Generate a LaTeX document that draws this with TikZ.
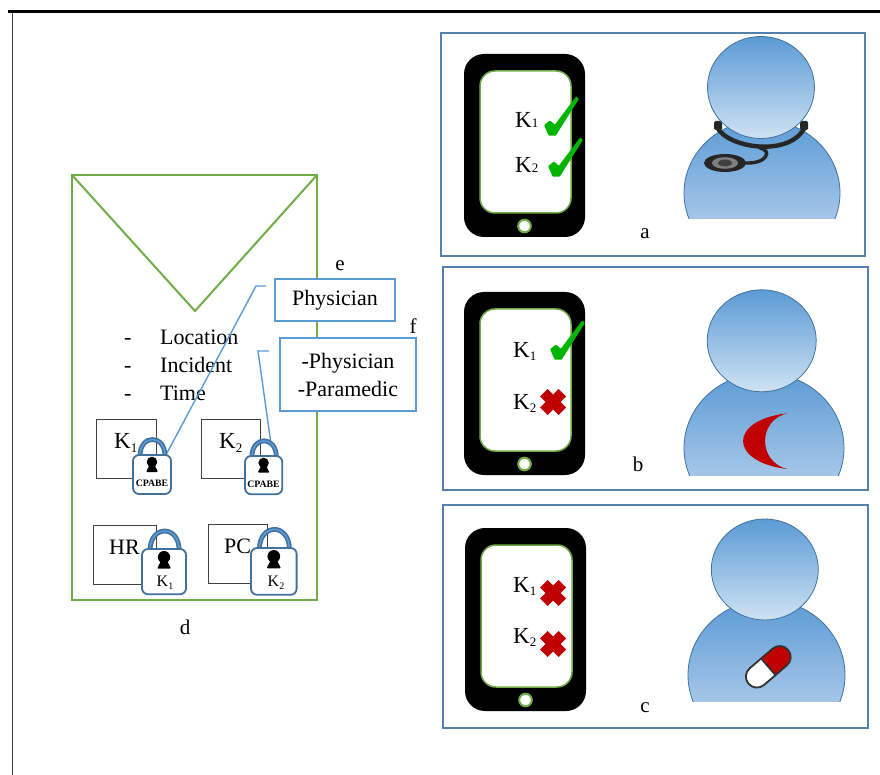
\documentclass[tikz,border=0pt]{standalone}
\usepackage{fontspec}
\setmainfont{Liberation Serif}
\definecolor{envgreen}{HTML}{70AD47}
\definecolor{calloutblue}{HTML}{5B9BD5}
\definecolor{framesteel}{HTML}{5580AE}
\definecolor{lockblue}{HTML}{41719C}
\definecolor{skyTop}{HTML}{5B9BD5}
\definecolor{headLow}{HTML}{CFE2F3}
\definecolor{bodyLow}{HTML}{C8DAF1}
\definecolor{tickgreen}{HTML}{00B400}
\definecolor{crossred}{HTML}{C00000}
\newcommand{\ksub}[2]{{\fontsize{23}{26}\selectfont K}{\fontsize{13}{13}\selectfont\raisebox{#2pt}{#1}}}
\newcommand{\tickmark}[2]{\fill[tickgreen,line join=round,draw=tickgreen,line width=2.4pt] (#1+1.5,#2+28.5) -- (#1+6,#2+25) -- (#1+11,#2+29.5) -- (#1+32.5,#2+1) -- (#1+33.5,#2+2) -- (#1+11,#2+37.5) -- (#1+5.5,#2+37.5) -- cycle;}
\newcommand{\crossmark}[2]{\fill[crossred] (#1+7.5,#2) -- (#1+13,#2+5.5) -- (#1+18.5,#2) -- (#1+26,#2+7.5) -- (#1+20.5,#2+13) -- (#1+26,#2+18.5) -- (#1+18.5,#2+26) -- (#1+13,#2+20.5) -- (#1+7.5,#2+26) -- (#1,#2+18.5) -- (#1+5.5,#2+13) -- (#1,#2+7.5) -- cycle;}
\newcommand{\phonebody}[2]{%
  \fill[black,rounded corners=20pt] (#1,#2) rectangle (#1+121,#2+183);
  \draw[envgreen,fill=white,line width=1.5pt,rounded corners=15pt] (#1+16,#2+17) rectangle (#1+107,#2+159);
  \draw[envgreen,fill=white,line width=2pt] (#1+60.5,#2+172) circle[radius=6.3pt];
}
\newcommand{\personbody}[5]{% bodyx bodyy clipy rx ry
  \begin{scope}
    \clip (#1-90,#2-90) rectangle (#1+90,#3);
    \shade[top color=skyTop,bottom color=bodyLow,draw=lockblue,line width=.8pt] (#1,#2) ellipse[x radius=#4pt,y radius=#5pt];
  \end{scope}
}
\newcommand{\personhead}[4]{\shade[top color=skyTop,bottom color=headLow,draw=lockblue,line width=.8pt] (#1,#2) ellipse[x radius=#3pt,y radius=#4pt];}
\newcommand{\padlock}[3]{% x y scale
  \begin{scope}[shift={(#1,#2)},scale=#3]
    \draw[lockblue,line width=4.8pt] (7,1) .. controls (7,-21) and (32,-21) .. (32,1);
    \draw[calloutblue,line width=1.6pt] (7,1) .. controls (7,-21) and (32,-21) .. (32,1);
    \draw[lockblue,fill=white,line width=1.8pt,rounded corners=6pt] (0,0) rectangle (38,39);
    \fill[black] (19,7) circle[radius=5.3pt];
    \fill[black,rounded corners=1pt] (17,9) -- (13,17) -- (25,17) -- (21,9) -- cycle;
  \end{scope}
}
\tikzset{
  panelframe/.style={draw=framesteel,line width=1.8pt},
  plainsquare/.style={draw=black!75,line width=.9pt},
  calloutline/.style={draw=calloutblue,line width=1.4pt},
  calloutbox/.style={draw=calloutblue,fill=white,line width=2pt,align=center,inner sep=0pt,font=\fontsize{22}{28}\selectfont},
  txt/.style={anchor=base west,inner sep=0pt,font=\fontsize{22}{26}\selectfont},
  ctxt/.style={anchor=base,inner sep=0pt,font=\fontsize{21}{26}\selectfont},
  smallk/.style={anchor=base,inner sep=0pt,font=\fontsize{16}{18}\selectfont},
  cplabel/.style={anchor=base,inner sep=0pt,font=\fontsize{9.8}{11}\selectfont\bfseries},
  tube/.style={draw=black!85,line width=4.4pt,line cap=round}
}
\begin{document}
\begin{tikzpicture}[x=1pt,y=-1pt]
\useasboundingbox (0,0) rectangle (880,775);
\fill[white] (0,0) rectangle (880,775);
% page rules
\draw[black!75,line width=1pt] (12.5,12) -- (12.5,775);
\draw[black,line width=3.6pt] (8,11.5) -- (880,11.5);
% envelope
\draw[envgreen,line width=2pt] (72,175) rectangle (317,600);
\draw[envgreen,line width=2pt] (72,175) -- (195,311) -- (317,175);
% list
\node[txt] (d1) at (124,344) {-};
\node[txt] (l1) at (160,344) {Location};
\node[txt] (d2) at (124,372) {-};
\node[txt] (l2) at (160,372) {Incident};
\node[txt] (d3) at (124,400) {-};
\node[txt] (l3) at (160,400) {Time};
% squares
\draw[plainsquare] (96,419) rectangle (156,478);
\draw[plainsquare] (201,419) rectangle (260,478);
\draw[plainsquare] (93,525) rectangle (156,584);
\draw[plainsquare] (208,524) rectangle (267,583);
\node[txt] (sk1) at (114,448) {\ksub{1}{-4}};
\node[txt] (sk2) at (219,448) {\ksub{2}{-4}};
\node[txt] (shr) at (109,554) {HR};
\node[txt] (spc) at (224,553) {PC};
% callouts
\node[calloutbox,minimum width=120pt,minimum height=42pt] (phys) at (335,300) {Physician};
\node[calloutbox,minimum width=136pt,minimum height=73pt] (both) at (348,374.5) {-Physician\\-Paramedic};
\coordinate (physend) at (266,286);
\coordinate (bothend) at (269,351);
\coordinate (lockA) at (167,453);
\coordinate (lockB) at (271,444);
\draw[calloutline] (physend) -- (256,286) -- (lockA);
\draw[calloutline] (bothend) -- (258,351) -- (lockB);
% locks
\padlock{133}{455}{1}
\padlock{245}{456}{.98}
\padlock{142}{549}{1.16}
\padlock{251}{548}{1.2}
\node[cplabel] (cp1) at (152,486) {CPABE};
\node[cplabel] (cp2) at (263.5,487) {CPABE};
\node[smallk] (lk1) at (165,586) {K{\fontsize{10}{10}\selectfont\raisebox{-3pt}{1}}};
\node[smallk] (lk2) at (276,586) {K{\fontsize{10}{10}\selectfont\raisebox{-3pt}{2}}};
% labels
\node[ctxt] (ld) at (185,634) {d};
\node[ctxt] (le) at (340,271) {e};
\node[ctxt] (lf) at (413,334) {f};
% panel a
\draw[panelframe] (441,33) rectangle (865,256);
\phonebody{464}{54}
\node[txt] (a1) at (515,128) {\ksub{1}{0}};
\node[txt] (a2) at (515,173) {\ksub{2}{0}};
\tickmark{544}{97}
\tickmark{548}{138}
\personbody{762}{193}{218.7}{78}{73}
\draw[tube] (717,127) .. controls (727,148) and (790,158) .. (805,127);
\fill[black!85,rounded corners=1.5pt] (714,121) rectangle (722,130);
\fill[black!85,rounded corners=1.5pt] (800,121) rectangle (808,130);
\draw[tube,line width=3.4pt] (760,148) .. controls (772,150) and (768,164) .. (745,163);
\fill[black!85] (725,163) ellipse[x radius=21pt,y radius=9pt];
\fill[black!50] (725,163) ellipse[x radius=13pt,y radius=5.8pt];
\fill[black!75] (725,163) ellipse[x radius=7pt,y radius=3.5pt];
\personhead{761}{87.5}{53.5}{51}
\node[ctxt] (la) at (645,239) {a};
% panel b
\draw[panelframe] (443,267) rectangle (868,490);
\phonebody{464}{292}
\node[txt] (b1) at (513,357) {\ksub{1}{-3}};
\node[txt] (b2) at (513,409) {\ksub{2}{-3}};
\tickmark{550}{321}
\crossmark{540}{389}
\personbody{764}{448}{475}{80}{75}
\fill[crossred] (787.3,413.3) .. controls (728.3,420) and (728.3,462) .. (787.3,469) .. controls (757.7,462) and (757.7,420) .. (787.3,413.3) -- cycle;
\personhead{761.7}{340.8}{54.5}{51}
\node[ctxt] (lb) at (638,471) {b};
% panel c
\draw[panelframe] (443,505) rectangle (868,728);
\phonebody{465}{528}
\node[txt] (c1) at (513,592) {\ksub{1}{-3}};
\node[txt] (c2) at (513,643) {\ksub{2}{-3}};
\crossmark{540}{580}
\crossmark{540}{631}
\personbody{766.5}{675}{701.7}{78.5}{75}
\personhead{764.8}{569.5}{53.5}{50.5}
\begin{scope}[shift={(768.3,666.8)},rotate=40.6]
  \fill[white,rounded corners=10.9pt] (-26,-11) rectangle (26,11);
  \begin{scope}
    \clip (0,-12) rectangle (27,12);
    \fill[crossred,rounded corners=10.9pt] (-26,-11) rectangle (26,11);
  \end{scope}
  \draw[black!80,line width=1.8pt,rounded corners=10.9pt] (-26,-11) rectangle (26,11);
  \draw[black!80,line width=1.8pt] (0,-11) -- (0,11);
\end{scope}
\node[ctxt] (lc) at (645,712) {c};
\end{tikzpicture}
\end{document}
